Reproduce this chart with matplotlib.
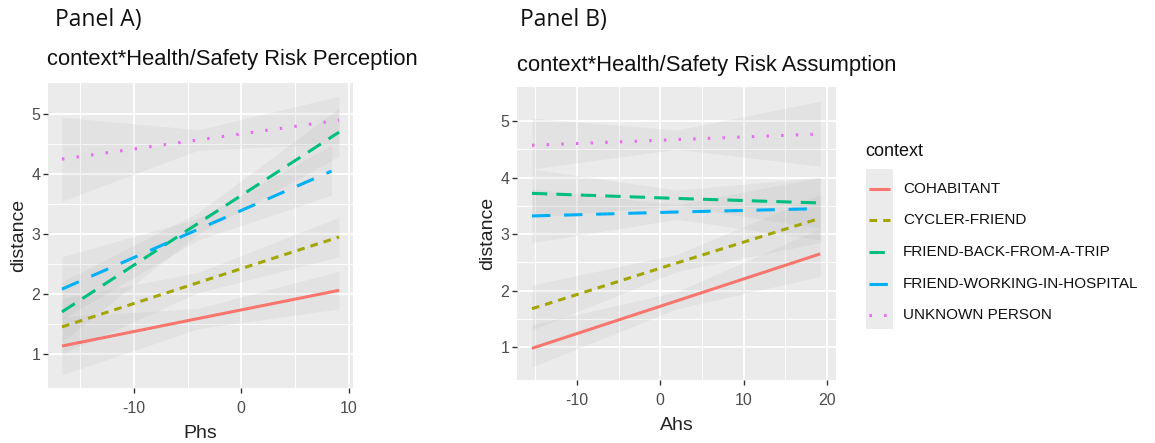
import matplotlib
matplotlib.use("Agg")
import matplotlib.pyplot as plt
from matplotlib.lines import Line2D
from matplotlib.patches import Rectangle
import numpy as np

contexts = ["COHABITANT", "CYCLER-FRIEND", "FRIEND-BACK-FROM-A-TRIP",
            "FRIEND-WORKING-IN-HOSPITAL", "UNKNOWN PERSON"]
colors = ["#F8766D", "#A3A500", "#00BF7D", "#00B0F6", "#E76BF3"]
dash_styles = [None, (2.5, 2.0), (5, 3), (6, 4.5), (0.8, 4)]

# Panel A: Phs
phs_x = [-16.7, -4.0, 9.1]
phs_x_fw = [-16.7, -4.0, 8.4]
phs_fit = {
    "COHABITANT": [1.13, 1.59, 2.06],
    "CYCLER-FRIEND": [1.45, 2.19, 2.95],
    "FRIEND-BACK-FROM-A-TRIP": [1.70, 3.18, 4.70],
    "FRIEND-WORKING-IN-HOSPITAL": [2.08, 3.08, 4.05],
    "UNKNOWN PERSON": [4.25, 4.57, 4.90],
}
phs_lo = {
    "COHABITANT": [0.65, 1.42, 1.75],
    "CYCLER-FRIEND": [1.00, 2.02, 2.62],
    "FRIEND-BACK-FROM-A-TRIP": [1.20, 3.00, 4.30],
    "FRIEND-WORKING-IN-HOSPITAL": [1.58, 2.90, 3.65],
    "UNKNOWN PERSON": [3.55, 4.40, 4.50],
}
phs_hi = {
    "COHABITANT": [1.62, 1.76, 2.38],
    "CYCLER-FRIEND": [1.92, 2.36, 3.28],
    "FRIEND-BACK-FROM-A-TRIP": [2.20, 3.36, 5.10],
    "FRIEND-WORKING-IN-HOSPITAL": [2.62, 3.26, 4.48],
    "UNKNOWN PERSON": [4.95, 4.74, 5.30],
}

# Panel B: Ahs
ahs_x = [-15.4, 2.0, 19.2]
ahs_fit = {
    "COHABITANT": [0.98, 1.82, 2.65],
    "CYCLER-FRIEND": [1.68, 2.49, 3.28],
    "FRIEND-BACK-FROM-A-TRIP": [3.72, 3.63, 3.55],
    "FRIEND-WORKING-IN-HOSPITAL": [3.32, 3.39, 3.45],
    "UNKNOWN PERSON": [4.57, 4.67, 4.77],
}
ahs_lo = {
    "COHABITANT": [0.65, 1.68, 2.25],
    "CYCLER-FRIEND": [1.30, 2.34, 2.85],
    "FRIEND-BACK-FROM-A-TRIP": [3.30, 3.50, 3.10],
    "FRIEND-WORKING-IN-HOSPITAL": [2.85, 3.26, 2.90],
    "UNKNOWN PERSON": [4.15, 4.50, 4.20],
}
ahs_hi = {
    "COHABITANT": [1.40, 1.98, 3.10],
    "CYCLER-FRIEND": [2.10, 2.64, 3.70],
    "FRIEND-BACK-FROM-A-TRIP": [4.15, 3.78, 4.00],
    "FRIEND-WORKING-IN-HOSPITAL": [3.80, 3.52, 4.00],
    "UNKNOWN PERSON": [5.05, 4.84, 5.35],
}

x_ticks_a = [-10, 0, 10]
x_ticks_b = [-10, 0, 10, 20]
y_ticks = [1, 2, 3, 4, 5]

plt.rcParams['font.family'] = ['Liberation Sans', 'DejaVu Sans']
plt.rcParams['axes.unicode_minus'] = False

fig = plt.figure(figsize=(11.55, 4.43), dpi=100)
fig.patch.set_facecolor("white")

axA = fig.add_axes([48/1155, 1-388/443, (353-48)/1155, (388-83)/443])
axB = fig.add_axes([517/1155, 1-380/443, (836-517)/1155, (380-87)/443])


def style_axis(ax, xlim, ylim, xticks, xminor, xlabel, xlabelpad):
    ax.set_facecolor("#EBEBEB")
    ax.set_xlim(*xlim)
    ax.set_ylim(*ylim)
    ax.set_xticks(xticks)
    ax.set_xticks(xminor, minor=True)
    ax.set_yticks(y_ticks)
    ax.set_yticks([1.5, 2.5, 3.5, 4.5], minor=True)
    ax.grid(True, which="major", color="white", lw=1.3)
    ax.grid(True, which="minor", color="white", lw=0.7)
    ax.set_axisbelow(True)
    for s in ax.spines.values():
        s.set_visible(False)
    ax.tick_params(which="major", color="#333333", length=3.5, width=1,
                   labelcolor="#4D4D4D", labelsize=11.5, pad=2)
    ax.tick_params(axis="x", which="major", pad=6)
    ax.tick_params(which="minor", length=0)
    ax.set_xlabel(xlabel, fontsize=14, color="#222222", labelpad=xlabelpad)
    ax.set_ylabel("distance", fontsize=14, color="#222222", labelpad=3)


def draw(ax, xs, fit, lo, hi, xs_special=None):
    for c, col, ds in zip(contexts, colors, dash_styles):
        x = xs_special if (xs_special is not None and c == "FRIEND-WORKING-IN-HOSPITAL") else xs
        ax.fill_between(x, lo[c], hi[c], color="#999999", alpha=0.10, lw=0)
    for c, col, ds in zip(contexts, colors, dash_styles):
        x = xs_special if (xs_special is not None and c == "FRIEND-WORKING-IN-HOSPITAL") else xs
        ln, = ax.plot(x, fit[c], color=col, lw=2.2, solid_capstyle="butt")
        if ds is not None:
            ln.set_dashes(ds)


draw(axA, phs_x, phs_fit, phs_lo, phs_hi, xs_special=phs_x_fw)
style_axis(axA, (-18.0, 10.4), (0.43, 5.52), x_ticks_a, [-15, -5, 5], "Phs", 6)

draw(axB, ahs_x, ahs_fit, ahs_lo, ahs_hi)
style_axis(axB, (-17.2, 21.1), (0.42, 5.6), x_ticks_b, [-15, -5, 5, 15], "Ahs", 6)

# Titles
fig.text(47/1155, 1-60/443, "context*Health/Safety Risk Perception", fontsize=15.8,
         color="#111111", va="center", ha="left")
fig.text(517/1155, 1-66/443, "context*Health/Safety Risk Assumption", fontsize=15.8,
         color="#111111", va="center", ha="left")

# Panel labels
fig.text(55/1155, 1-20/443, "Panel A)", fontsize=16.5, family=["Open Sans", "DejaVu Sans"],
         color="#111111", va="center", ha="left")
fig.text(520/1155, 1-20/443, "Panel B)", fontsize=16.5, family=["Open Sans", "DejaVu Sans"],
         color="#111111", va="center", ha="left")

# Legend
fig.text(865/1155, 1-152/443, "context", fontsize=13, color="#111111", va="center", ha="left")
fig.add_artist(Rectangle((866/1155, 1-329/443), (893-866)/1155, (329-169)/443,
                         transform=fig.transFigure, facecolor="#EBEBEB", edgecolor="none"))
rows = [189, 220, 252, 284, 315]
for c, col, ds, ry in zip(contexts, colors, dash_styles, rows):
    yf = 1 - ry/443
    ln = Line2D([869/1155, 890/1155], [yf, yf], transform=fig.transFigure,
                color=col, lw=2.2, solid_capstyle="butt")
    if ds is not None:
        ln.set_dashes(ds)
    fig.add_artist(ln)
    fig.text(903/1155, yf, c, fontsize=11, color="#111111", va="center", ha="left")

fig.savefig("out.png", dpi=100)
